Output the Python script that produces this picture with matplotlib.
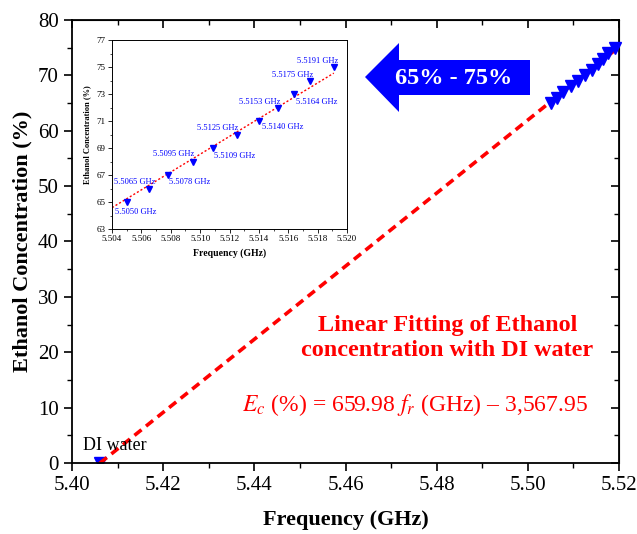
import matplotlib
matplotlib.use("Agg")
import matplotlib.pyplot as plt
import numpy as np
from matplotlib.patches import Polygon
from matplotlib.ticker import MultipleLocator, FixedLocator, FormatStrFormatter

plt.rcParams['font.family'] = ['Liberation Serif', 'DejaVu Serif']
plt.rcParams['mathtext.fontset'] = 'stix'

# Data
freq_ghz = [5.5050, 5.5065, 5.5078, 5.5095, 5.5109, 5.5125, 5.5140, 5.5153, 5.5164, 5.5175, 5.5191]
conc_pct = [65, 66, 67, 68, 69, 70, 71, 72, 73, 74, 75]
di_freq = 5.4061
di_conc = 0
slope = 659.98
intercept = -3567.95
labels = ["5.5050 GHz", "5.5065 GHz", "5.5078 GHz", "5.5095 GHz", "5.5109 GHz", "5.5125 GHz",
          "5.5140 GHz", "5.5153 GHz", "5.5164 GHz", "5.5175 GHz", "5.5191 GHz"]
inset_yticks = [63, 65, 67, 69, 71, 73, 75, 77]
# label offsets (points): position style only
label_off = [(6.3, -7.4), (-10.1, 4.5), (16, -5.3), (-13.8, 5.2), (15.6, -5.5), (-13.5, 4.9),
             (17, -4.3), (-13, 4.2), (15.9, -6), (-12.5, 3.8), (-11.7, 4.3)]

W, H = 637, 534
fig = plt.figure(figsize=(W / 100, H / 100), dpi=100)
ax = fig.add_axes([72 / W, 1 - 463 / H, (619 - 72) / W, (463 - 20) / H])

# main fit line
xf = np.linspace(di_freq, 5.5198, 100)
ax.plot(xf, slope * xf + intercept, color='red', ls=(0, (2.5, 1.6)), lw=2.6, zorder=2)
ax.plot(freq_ghz, conc_pct, ls='none', marker='v', color='blue', ms=9, zorder=3, clip_on=False)
ax.plot([di_freq], [di_conc], ls='none', marker='v', color='blue', ms=9, zorder=1)

ax.set_xlim(5.40, 5.52)
ax.set_ylim(0, 80)
ax.xaxis.set_major_locator(MultipleLocator(0.02))
ax.xaxis.set_minor_locator(MultipleLocator(0.01))
ax.yaxis.set_major_locator(MultipleLocator(10))
ax.yaxis.set_minor_locator(MultipleLocator(5))
ax.xaxis.set_major_formatter(FormatStrFormatter('%.2f'))
ax.tick_params(which='major', direction='out', length=6, width=1.2, labelsize=15)
ax.tick_params(which='minor', direction='out', length=3.5, width=1.0)
for s in ax.spines.values():
    s.set_linewidth(1.3)
secx = ax.secondary_xaxis('top')
secx.xaxis.set_major_locator(MultipleLocator(0.02))
secx.xaxis.set_minor_locator(MultipleLocator(0.01))
secx.tick_params(which='major', direction='in', length=6, width=1.2, labeltop=False)
secx.tick_params(which='minor', direction='in', length=3.5, width=1.0)
secy = ax.secondary_yaxis('right')
secy.yaxis.set_major_locator(MultipleLocator(10))
secy.yaxis.set_minor_locator(MultipleLocator(5))
secy.tick_params(which='major', direction='in', length=6, width=1.2, labelright=False)
secy.tick_params(which='minor', direction='in', length=3.5, width=1.0)

ax.set_xlabel('Frequency (GHz)', fontsize=16, fontweight='bold', labelpad=11)
ax.set_ylabel('Ethanol Concentration (%)', fontsize=16, fontweight='bold', labelpad=4)

ax.annotate('DI water', (di_freq, di_conc), xytext=(11, 9), textcoords='offset points',
            fontsize=13, ha='center', va='baseline')

ax.text(0.686, 0.282, 'Linear Fitting of Ethanol\nconcentration with DI water', transform=ax.transAxes,
        color='red', fontsize=17.4, fontweight='bold', ha='center', va='center', linespacing=1.25)
ax.text(0.943, 0.131, r'$E_c$ (%) = 659.98 $f_r$ (GHz) – 3,567.95', transform=ax.transAxes,
        color='red', fontsize=17, ha='right', va='center')

# arrow annotation (figure pixels)
pts = [(365, 77), (399, 43), (399, 60), (530, 60), (530, 95), (399, 95), (399, 112)]
poly = Polygon([(x / W, 1 - y / H) for x, y in pts], closed=True, transform=fig.transFigure,
               facecolor='blue', edgecolor='none', zorder=5)
fig.patches.append(poly)
fig.text(454 / W, 1 - 78 / H, '65% - 75%', color='white', fontsize=17.5, fontweight='bold',
         ha='center', va='center', zorder=6)

# inset
ins = fig.add_axes([112 / W, 1 - 229 / H, (347 - 112) / W, (229 - 40) / H])
xi = np.linspace(5.504, 5.5191, 50)
ins.plot(xi, slope * xi + intercept, color='red', ls=(0, (1.5, 1.5)), lw=1.0)
ins.plot(freq_ghz, conc_pct, ls='none', marker='v', color='blue', ms=4.5)
for f, c, lab, off in zip(freq_ghz, conc_pct, labels, label_off):
    ins.annotate(lab, (f, c), xytext=off, textcoords='offset points', fontsize=6,
                 color='blue', ha='center', va='center')
ins.set_xlim(5.504, 5.520)
ins.set_ylim(63, 77)
ins.xaxis.set_major_locator(MultipleLocator(0.002))
ins.xaxis.set_minor_locator(MultipleLocator(0.001))
ins.yaxis.set_major_locator(FixedLocator(inset_yticks))
ins.yaxis.set_minor_locator(MultipleLocator(1))
ins.xaxis.set_major_formatter(FormatStrFormatter('%.3f'))
ins.tick_params(which='major', direction='out', length=3, width=0.6, labelsize=6.5, pad=1.5)
ins.tick_params(which='minor', direction='out', length=1.5, width=0.5)
for s in ins.spines.values():
    s.set_linewidth(0.7)
ins.set_xlabel('Frequency (GHz)', fontsize=7, fontweight='bold', labelpad=4)
ins.set_ylabel('Ethanol Concentration (%)', fontsize=6, fontweight='bold', labelpad=4)

fig.savefig('out.png', dpi=100)
